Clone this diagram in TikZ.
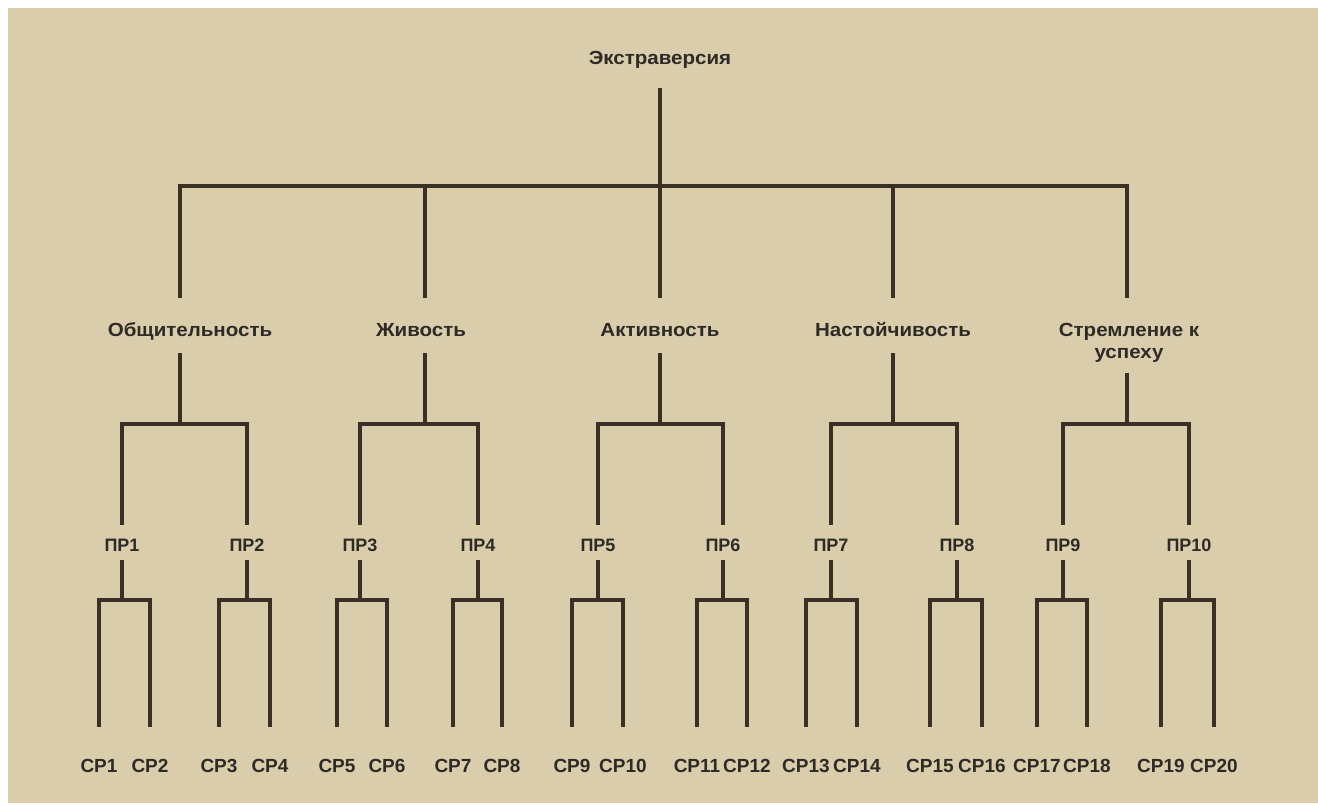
\documentclass[tikz,border=0pt]{standalone}
\usepackage{fontspec}
\newfontfamily\labw[FakeStretch=1.08]{Liberation Sans}
\newfontfamily\labn{Liberation Sans}
\definecolor{paper}{HTML}{DACDAB}
\definecolor{linec}{HTML}{3A3026}
\definecolor{textc}{HTML}{2E2B26}
\begin{document}
\begin{tikzpicture}[x=1pt,y=-1pt,
  conn/.style={draw=linec,line width=3.6pt,line join=miter},
  lblw/.style={inner sep=0pt,anchor=base,text=textc,font=\labw\bfseries\fontsize{19}{21}\selectfont},
  rootlbl/.style={lblw,text height=17pt,text depth=23pt},
  toplbl/.style={lblw,text height=39pt,text depth=16pt},
  prlbl/.style={inner sep=0pt,anchor=base,text=textc,font=\labn\bfseries\fontsize{18}{21}\selectfont,text height=26pt,text depth=9pt},
  cplbl/.style={inner sep=0pt,anchor=base,text=textc,font=\labn\bfseries\fontsize{19}{21}\selectfont,text height=45pt,text depth=4pt}
]
\useasboundingbox (0,0) rectangle (1318,805);
\fill[white] (0,0) rectangle (1318,805);
\fill[paper] (8,8) rectangle (1318,803);

% root
\node[rootlbl] (r) at (660,65) {Экстраверсия};
\coordinate (t) at (660,186);

% level 1
\node[toplbl] (a1) at (190,337) {Общительность};
\node[toplbl] (a2) at (421,337) {Живость};
\node[toplbl] (a3) at (660,337) {Активность};
\node[toplbl] (a4) at (893,337) {Настойчивость};
\node[lblw,text height=39pt,text depth=36pt] (a5) at (1129,337)
  {\begin{tabular}[t]{@{}c@{}}Стремление к\\успеху\end{tabular}};

\coordinate (b1) at (180,424);
\coordinate (b2) at (425,424);
\coordinate (b3) at (660,424);
\coordinate (b4) at (893,424);
\coordinate (b5) at (1127,424);

% level 2
\foreach \i/\x in {1/122,2/247,3/360,4/478,5/598,6/723,7/831,8/957,9/1063,10/1189}{
  \node[prlbl] (p\i) at (\x,551) {ПР\i};
  \coordinate (q\i) at (\x,600);
}

% level 3
\foreach \i/\x in {1/99,2/150,3/219,4/270,5/337,6/387,7/453,8/502,9/572,10/623,
  11/697,12/747,13/806,14/857,15/930,16/982,17/1037,18/1087,19/1161,20/1214}{
  \node[cplbl] (c\i) at (\x,772) {СР\i};
}

% connectors root -> level 1
\draw[conn] (r.south) -- (t);
\draw[conn] (a1.north -| b1) |- (t) -| (a5.north -| b5);
\foreach \i in {2,3,4}{\draw[conn] (a\i.north -| b\i) -- (t -| b\i);}

% level 1 -> level 2
\foreach \i/\l/\r in {1/1/2,2/3/4,3/5/6,4/7/8,5/9/10}{
  \draw[conn] (a\i.south -| b\i) -- (b\i);
  \draw[conn] (p\l.north) |- (b\i) -| (p\r.north);
}

% level 2 -> level 3
\foreach \i/\l/\r in {1/1/2,2/3/4,3/5/6,4/7/8,5/9/10,6/11/12,7/13/14,8/15/16,9/17/18,10/19/20}{
  \draw[conn] (p\i.south) -- (q\i);
  \draw[conn] (c\l.north) |- (q\i) -| (c\r.north);
}
\end{tikzpicture}
\end{document}
